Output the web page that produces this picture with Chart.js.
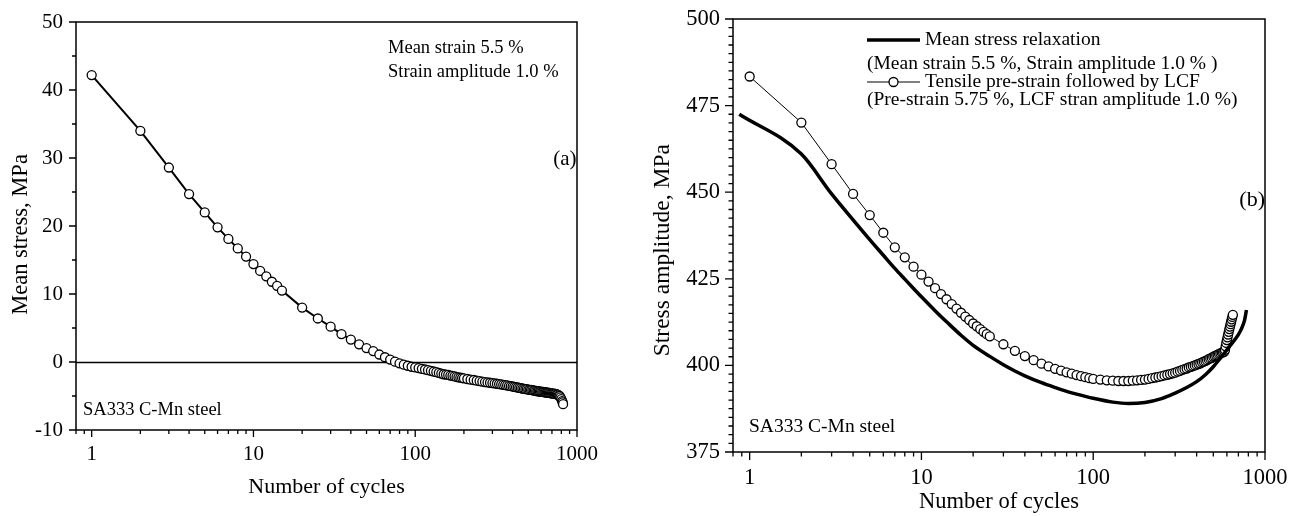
<!DOCTYPE html>
<html>
<head>
<meta charset="utf-8">
<script src="https://cdn.jsdelivr.net/npm/chart.js@4.4.1/dist/chart.umd.min.js"></script>
<style>
  html, body { margin: 0; padding: 0; background: #fff; }
  #wrap { position: relative; width: 1301px; height: 516px; }
  .panel { position: absolute; top: 0; height: 516px; }
  #panelA { left: 0; width: 645px; }
  #panelB { left: 645px; width: 656px; }
</style>
</head>
<body>
<div id="wrap">
  <div class="panel" id="panelA"><canvas id="chartA"></canvas></div>
  <div class="panel" id="panelB"><canvas id="chartB"></canvas></div>
</div>
<script>
// ---- panel (a): mean stress relaxation ----
const cyclesA = [
  1, 2, 3, 4, 5, 6, 7, 8, 9, 10, 11, 12, 13, 14, 15,
  20, 25, 30, 35, 40, 45, 50, 55, 60, 65, 70, 75, 80, 85, 90, 95, 100,
  105, 110, 115, 120, 125, 130, 135, 140, 145, 150, 155, 160, 165, 170, 175, 180, 185, 190, 195, 200,
  210, 220, 230, 240, 250, 260, 270, 280, 290, 300,
  310, 320, 330, 340, 350, 360, 370, 380, 390, 400,
  410, 420, 430, 440, 450, 460, 470, 480, 490, 500,
  510, 520, 530, 540, 550, 560, 570, 580, 590, 600,
  610, 620, 630, 640, 650, 660, 670, 680, 690, 700,
  710, 720, 730, 740, 750, 760, 770, 780,
  790, 800, 810, 815, 820
];
const meanStressA = [
  42.2, 34.0, 28.6, 24.7, 22.0, 19.8, 18.1, 16.7, 15.5, 14.4, 13.4, 12.6, 11.8, 11.2, 10.5,
  8.0, 6.4, 5.2, 4.1, 3.3, 2.6, 2.05, 1.6, 1.1, 0.7, 0.35, 0.05, -0.2, -0.4, -0.55, -0.7, -0.8,
  -0.9, -1.0, -1.1, -1.2, -1.3, -1.4, -1.5, -1.6, -1.7, -1.8, -1.85, -1.9, -2.0, -2.05, -2.1, -2.2, -2.25, -2.3, -2.35, -2.4,
  -2.5, -2.6, -2.65, -2.75, -2.8, -2.9, -2.95, -3.0, -3.05, -3.1,
  -3.15, -3.2, -3.25, -3.3, -3.35, -3.4, -3.45, -3.5, -3.55, -3.6,
  -3.65, -3.7, -3.75, -3.8, -3.85, -3.9, -3.95, -4.0, -4.0, -4.05,
  -4.1, -4.1, -4.15, -4.2, -4.2, -4.25, -4.3, -4.3, -4.35, -4.35,
  -4.4, -4.4, -4.45, -4.45, -4.5, -4.5, -4.55, -4.55, -4.6, -4.6,
  -4.65, -4.65, -4.7, -4.7, -4.75, -4.8, -4.9, -5.0,
  -5.2, -5.45, -5.75, -5.95, -6.2
];

// ---- panel (b): stress amplitude ----
const cyclesRelax = [0.87, 2, 3, 4, 5, 6, 7, 8, 9, 10, 12, 14, 17, 20, 25, 30, 35, 40, 50, 60, 70, 80,
  100, 130, 160, 200, 250, 300, 350, 400, 450, 500, 550, 600, 650, 700, 730, 760, 780];
const stressRelax = [472.5, 461.0, 449.5, 442.0, 436.3, 431.8, 428.0, 424.9, 422.2, 419.8, 415.8, 412.6, 408.7, 405.8,
  402.6, 400.2, 398.4, 397.0, 395.0, 393.6, 392.5, 391.7,
  390.5, 389.4, 389.0, 389.3, 390.4, 392.0, 393.6, 395.3, 397.3, 399.6, 402.1, 404.5, 406.7, 408.9, 410.6, 413.0, 416.0];

const cyclesLCF = [
  1, 2, 3, 4, 5, 6, 7, 8, 9, 10, 11, 12, 13, 14, 15, 16, 17, 18, 19, 20, 21, 22, 23, 24, 25,
  30, 35, 40, 45, 50, 55, 60, 65, 70, 75, 80, 85, 90, 95, 100,
  110, 120, 130, 140, 150, 160, 170, 180, 190, 200,
  210, 220, 230, 240, 250, 260, 270, 280, 290, 300,
  310, 320, 330, 340, 350, 360, 370, 380, 390, 400,
  410, 420, 430, 440, 450, 460, 470, 480, 490, 500,
  510, 520, 530, 540, 550, 560, 570, 580,
  585, 590, 595, 600, 605, 610, 615, 620, 625, 630, 635, 640, 645, 650
];
const stressLCF = [
  483.4, 470.1, 458.1, 449.5, 443.4, 438.3, 434.1, 431.2, 428.5, 426.2, 424.2, 422.3, 420.6, 419.1, 417.7,
  416.4, 415.2, 414.1, 413.1, 412.1, 411.3, 410.5, 409.7, 409.0, 408.4,
  406.1, 404.2, 402.7, 401.5, 400.5, 399.7, 399.0, 398.5, 398.0, 397.6, 397.2, 396.9, 396.6, 396.3, 396.1,
  395.9, 395.7, 395.6, 395.5, 395.5, 395.5, 395.6, 395.7, 395.8, 395.9,
  396.1, 396.3, 396.5, 396.7, 396.9, 397.1, 397.3, 397.5, 397.7, 397.9,
  398.2, 398.4, 398.7, 398.9, 399.1, 399.4, 399.6, 399.8, 400.0, 400.2,
  400.4, 400.6, 400.9, 401.1, 401.3, 401.5, 401.8, 402.0, 402.2, 402.5,
  402.7, 402.9, 403.1, 403.3, 403.5, 403.7, 403.8, 404.0,
  404.5, 405.5, 406.5, 407.3, 408.1, 408.9, 409.7, 410.5, 411.2, 411.9, 412.6, 413.3, 414.0, 414.6
];

const xTickValues = [1, 10, 100, 1000];
const yTicksA = [-10, 0, 10, 20, 30, 40, 50];
const yTicksB = [375, 400, 425, 450, 475, 500];

const SERIF = "'Liberation Serif', 'Times New Roman', serif";
Chart.defaults.font.family = SERIF;
Chart.defaults.color = "#000";

const toXY = (xs, ys) => xs.map((x, i) => ({ x: x, y: ys[i] }));

// tick positions on a log axis (1..9 per decade)
function logTickPositions(min, max) {
  const out = [];
  for (let e = -1; e <= 3; e++) {
    for (let k = 1; k <= 9; k++) {
      const v = k * Math.pow(10, e);
      if (v >= min - 1e-9 && v <= max + 1e-9) out.push({ v: v, major: k === 1 });
    }
  }
  return out;
}

// box round the plot, outward tick marks, optional zero line
const framePlugin = {
  id: "frame",
  beforeDatasetsDraw(chart, args, opts) {
    const { ctx, chartArea: a } = chart;
    const xs = chart.scales.x, ys = chart.scales.y;
    ctx.save();
    ctx.strokeStyle = "#000";
    ctx.lineWidth = 1.5;
    if (opts.zeroLine) {
      const y0 = Math.round(ys.getPixelForValue(0)) + 0.5;
      ctx.beginPath();
      ctx.moveTo(a.left, y0);
      ctx.lineTo(a.right, y0);
      ctx.stroke();
    }
    ctx.strokeRect(a.left, a.top, a.right - a.left, a.bottom - a.top);

    ctx.lineWidth = 1.3;
    ctx.beginPath();
    logTickPositions(xs.min, xs.max).forEach(t => {
      const px = xs.getPixelForValue(t.v);
      ctx.moveTo(px, a.bottom);
      ctx.lineTo(px, a.bottom + (t.major ? opts.majorLen : opts.minorLen));
    });
    const n = Math.round((ys.max - ys.min) / opts.yMinor);
    for (let i = 0; i <= n; i++) {
      const v = ys.min + i * opts.yMinor;
      const py = ys.getPixelForValue(v);
      const r = v / opts.yMajor;
      const major = Math.abs(r - Math.round(r)) < 1e-6;
      ctx.moveTo(a.left, py);
      ctx.lineTo(a.left - (major ? opts.majorLen : opts.minorLen), py);
    }
    ctx.stroke();
    ctx.restore();
  }
};

// text notes and the hand-built legend of panel (b)
const notesPlugin = {
  id: "notes",
  afterDatasetsDraw(chart, args, opts) {
    const { ctx, chartArea: a } = chart;
    ctx.save();
    ctx.fillStyle = "#000";
    ctx.strokeStyle = "#000";
    ctx.textBaseline = "middle";
    (opts.items || []).forEach(n => {
      ctx.font = n.size + "px " + SERIF;
      ctx.textAlign = n.align || "left";
      const x = n.align === "right" ? a.right + n.dx : a.left + n.dx;
      ctx.fillText(n.text, x, a.top + n.dy);
    });
    (opts.legend || []).forEach(row => {
      const y = a.top + row.dy;
      if (row.sample != null) {
        const ds = chart.data.datasets[row.sample];
        ctx.lineWidth = ds.borderWidth;
        ctx.beginPath();
        ctx.moveTo(a.left + row.x0, y);
        ctx.lineTo(a.left + row.x1, y);
        ctx.stroke();
        if (ds.pointRadius > 0) {
          ctx.fillStyle = "#fff";
          ctx.lineWidth = ds.pointBorderWidth;
          ctx.beginPath();
          ctx.arc(a.left + (row.x0 + row.x1) / 2, y, ds.pointRadius, 0, Math.PI * 2);
          ctx.fill();
          ctx.stroke();
          ctx.fillStyle = "#000";
        }
      }
      ctx.font = row.size + "px " + SERIF;
      ctx.textAlign = "left";
      ctx.fillText(row.text, a.left + row.tx, y);
    });
    ctx.restore();
  }
};

// fixed axis boxes, no extra label padding so the plot area sits where the layout says
function fixBox(s, size) {
  if (s.isHorizontal()) s.height = size; else s.width = size;
  s.paddingTop = 0; s.paddingBottom = 0; s.paddingLeft = 0; s.paddingRight = 0;
}

function xScale(tickSize, labelPad, titleSize, titlePadBottom, height) {
  return {
    type: "logarithmic",
    min: 0.8,
    max: 1000,
    afterBuildTicks: s => { s.ticks = xTickValues.map(v => ({ value: v })); },
    afterFit: s => fixBox(s, height),
    grid: { display: false, drawTicks: false },
    border: { display: false },
    ticks: { font: { size: tickSize }, padding: labelPad, maxRotation: 0, autoSkip: false, callback: v => String(v) },
    title: { display: true, text: "Number of cycles", font: { size: titleSize }, padding: { top: 0, bottom: titlePadBottom } }
  };
}

function yScale(min, max, tickVals, tickSize, titleText, titleSize, titlePadTop, width) {
  return {
    type: "linear",
    min: min,
    max: max,
    afterBuildTicks: s => { s.ticks = tickVals.map(v => ({ value: v })); },
    afterFit: s => fixBox(s, width),
    grid: { display: false, drawTicks: false },
    border: { display: false },
    ticks: { font: { size: tickSize }, padding: 13, autoSkip: false, callback: v => String(v) },
    title: { display: true, text: titleText, font: { size: titleSize }, padding: { top: titlePadTop, bottom: 0 } }
  };
}

new Chart(document.getElementById("chartA"), {
  type: "line",
  data: {
    datasets: [{
      label: "Mean stress",
      data: toXY(cyclesA, meanStressA),
      borderColor: "#000",
      borderWidth: 2,
      pointRadius: 4.5,
      pointBorderWidth: 1.3,
      pointBackgroundColor: "#fff",
      pointBorderColor: "#000",
      tension: 0
    }]
  },
  options: {
    responsive: true,
    maintainAspectRatio: false,
    animation: false,
    devicePixelRatio: 1,
    layout: { padding: { top: 22, right: 68, left: 0, bottom: 0 } },
    scales: {
      x: xScale(21, 12, 22, 16, 86),
      // trailing spaces nudge the rotated title a little lower, as in the original
      y: yScale(-10, 50, yTicksA, 21, "Mean stress, MPa   ", 22.5, 8, 76)
    },
    plugins: {
      legend: { display: false },
      tooltip: { enabled: false },
      frame: { zeroLine: true, yMinor: 5, yMajor: 10, majorLen: 7, minorLen: 4 },
      notes: {
        items: [
          { text: "Mean strain 5.5 %", dx: 312, dy: 26, size: 18.5 },
          { text: "Strain amplitude 1.0 %", dx: 312, dy: 50, size: 18.5 },
          { text: "(a)", dx: -0.5, dy: 137, size: 21, align: "right" },
          { text: "SA333 C-Mn steel", dx: 7, dy: 388, size: 18.5 }
        ]
      }
    }
  },
  plugins: [framePlugin, notesPlugin]
});

new Chart(document.getElementById("chartB"), {
  type: "line",
  data: {
    datasets: [
      {
        label: "Mean stress relaxation",
        data: toXY(cyclesRelax, stressRelax),
        borderColor: "#000",
        borderWidth: 3.5,
        pointRadius: 0,
        cubicInterpolationMode: "monotone"
      },
      {
        label: "Tensile pre-strain followed by LCF",
        data: toXY(cyclesLCF, stressLCF),
        borderColor: "#000",
        borderWidth: 1,
        pointRadius: 4.5,
        pointBorderWidth: 1.3,
        pointBackgroundColor: "#fff",
        pointBorderColor: "#000",
        tension: 0
      }
    ]
  },
  options: {
    responsive: true,
    maintainAspectRatio: false,
    animation: false,
    devicePixelRatio: 1,
    layout: { padding: { top: 19, right: 36, left: 0, bottom: 0 } },
    scales: {
      x: xScale(22.5, 12.5, 22.5, 0, 64),
      y: yScale(375, 500, yTicksB, 22.5, "Stress amplitude, MPa     ", 23.5, 3.5, 88)
    },
    plugins: {
      legend: { display: false },
      tooltip: { enabled: false },
      frame: { zeroLine: false, yMinor: 2.5, yMajor: 25, majorLen: 8, minorLen: 4.5 },
      notes: {
        items: [
          { text: "(b)", dx: 0, dy: 181, size: 22, align: "right" },
          { text: "SA333 C-Mn steel", dx: 16, dy: 408, size: 19.5 }
        ],
        legend: [
          { sample: 0, x0: 134, x1: 187, tx: 192, dy: 21, size: 19.5, text: "Mean stress relaxation" },
          { tx: 134, dy: 45, size: 19.5, text: "(Mean strain 5.5 %, Strain amplitude 1.0 % )" },
          { sample: 1, x0: 134, x1: 187, tx: 192, dy: 63, size: 19.5, text: "Tensile pre-strain followed by LCF" },
          { tx: 134, dy: 81, size: 19.5, text: "(Pre-strain 5.75 %, LCF stran amplitude 1.0 %)" }
        ]
      }
    }
  },
  plugins: [framePlugin, notesPlugin]
});
</script>
</body>
</html>
